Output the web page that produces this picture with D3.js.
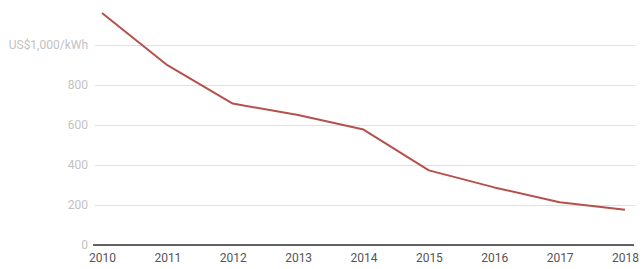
<!DOCTYPE html>
<html>
<head>
<meta charset="utf-8">
<script src="https://cdn.jsdelivr.net/npm/d3@7"></script>
<style>
  body { margin: 0; background: #fff; }
  text { font-family: Roboto, "Noto Sans", sans-serif; }
</style>
</head>
<body>
<div id="chart"></div>
<script>
// battery pack price, US$/kWh
const years = [2010, 2011, 2012, 2013, 2014, 2015, 2016, 2017, 2018];
const prices = [1160, 899, 707, 650, 577, 373, 288, 214, 176];
const yTicks = [0, 200, 400, 600, 800, 1000];
const yTickLabels = ["0", "200", "400", "600", "800", "US$1,000/kWh"];

const width = 644, height = 269;

const svg = d3.select("#chart").append("svg")
    .attr("width", width)
    .attr("height", height);

const x = d3.scalePoint()
    .domain(years)
    .range([102, 625]);

const y = d3.scaleLinear()
    .domain([0, 1000])
    .range([245, 45]);

// gridlines + y labels
const yAxis = d3.axisLeft(y)
    .tickValues(yTicks)
    .tickSize(-540)
    .tickPadding(6)
    .tickFormat((d, i) => yTickLabels[i]);

const gy = svg.append("g")
    .attr("transform", "translate(95,0)")
    .call(yAxis);
gy.select(".domain").remove();
gy.selectAll(".tick line").attr("stroke", "#e0e0e0").attr("stroke-width", 1);
gy.selectAll(".tick text")
    .attr("fill", "#c2c2c2")
    .attr("font-size", 12)
    .attr("x", -7);

// x axis
const xAxis = d3.axisBottom(x).tickSize(0).tickPadding(8);
const gx = svg.append("g")
    .attr("transform", `translate(0,${y(0)})`)
    .call(xAxis);
gx.select(".domain").remove();
gx.selectAll(".tick text")
    .attr("fill", "#555")
    .attr("font-size", 12);

svg.append("line")
    .attr("x1", 93).attr("x2", 634)
    .attr("y1", y(0)).attr("y2", y(0))
    .attr("stroke", "#333")
    .attr("stroke-width", 1.3);

// line
const line = d3.line()
    .x((d, i) => x(years[i]))
    .y(d => y(d));

svg.append("path")
    .datum(prices)
    .attr("fill", "none")
    .attr("stroke", "#b5514c")
    .attr("stroke-width", 2)
    .attr("stroke-linejoin", "round")
    .attr("d", line);
</script>
</body>
</html>
